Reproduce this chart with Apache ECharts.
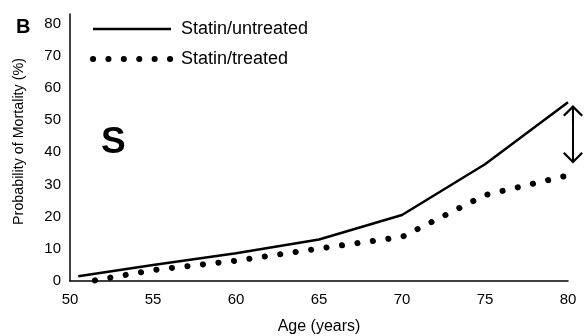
<!DOCTYPE html>
<html>
<head>
<meta charset="UTF-8">
<title>Probability of Mortality</title>
<script src="https://cdn.jsdelivr.net/npm/echarts@6/dist/echarts.min.js"></script>
<style>
  html, body { margin: 0; padding: 0; background: #fff; }
  #chart { width: 588px; height: 336px; }
</style>
</head>
<body>
<div id="chart"></div>
<script>
// data
const seriesNames = ["Statin/untreated", "Statin/treated"];
const untreatedAge = [50.5, 55, 60, 65, 70, 75, 80];
const untreatedMortality = [1.5, 5.0, 8.6, 12.9, 20.5, 36.3, 55.6];
const treatedAge = [51.5, 55, 60, 65, 70, 75, 80.3];
const treatedMortality = [0.2, 3.4, 6.3, 10.1, 13.7, 26.7, 33.2];
// difference marker at age 80 (stem ends; the heads reach ~3 units further)
const gapArrow = [[80.3, 51.6], [80.3, 39.6]];
const yTicks = [0, 10, 20, 30, 40, 50, 60, 70, 80];
const xTicks = [50, 55, 60, 65, 70, 75, 80];

const font = "Liberation Sans";
// open arrow head with its own stem, so the tip sits beyond the line end
const head = "path://M0,10 L10,0 L20,10 L18.4,11.6 L11,4.2 L11,20 L9,20 L9,4.2 L1.6,11.6 Z";

const chart = echarts.init(document.getElementById("chart"));

const option = {
  animation: false,
  textStyle: { fontFamily: font, color: "#000" },
  grid: { left: 70, right: 20, top: 14, bottom: 55, outerBoundsMode: "none", containLabel: false },
  legend: {
    orient: "vertical",
    left: 85,
    top: 15,
    itemWidth: 78,
    itemHeight: 14,
    itemGap: 12,
    itemStyle: { opacity: 0 },
    textStyle: { fontFamily: font, fontSize: 18, color: "#000", padding: [0, 0, 0, 5] },
    data: [
      { name: seriesNames[0], itemStyle: { opacity: 0 }, lineStyle: { width: 2.5, color: "#000" } },
      {
        name: seriesNames[1],
        itemStyle: { opacity: 0 },
        lineStyle: { width: 6, color: "#000", type: [0.1, 15.3], cap: "round" },
      },
    ],
  },
  xAxis: {
    type: "value",
    min: 50,
    max: 80,
    interval: 5,
    name: "Age (years)",
    nameLocation: "middle",
    nameGap: 38,
    nameTextStyle: { fontFamily: font, fontSize: 16, color: "#000" },
    axisLine: { lineStyle: { color: "#000", width: 1.5 } },
    axisTick: { show: false },
    splitLine: { show: false },
    axisLabel: {
      fontFamily: font,
      fontSize: 15,
      color: "#000",
      margin: 11,
      formatter: (v) => (xTicks.includes(v) ? String(v) : ""),
    },
  },
  yAxis: {
    type: "value",
    min: 0,
    max: 83,
    interval: 10,
    name: "Probability of Mortality (%)",
    nameLocation: "middle",
    nameGap: 44,
    nameTextStyle: { fontFamily: font, fontSize: 14.3, color: "#000", padding: [0, 0, 0, 12] },
    axisLine: { show: true, lineStyle: { color: "#000", width: 1.5 } },
    axisTick: { show: false },
    splitLine: { show: false },
    axisLabel: {
      fontFamily: font,
      fontSize: 15,
      color: "#000",
      margin: 9,
      formatter: (v) => (yTicks.includes(v) ? String(v) : ""),
    },
  },
  series: [
    {
      name: seriesNames[0],
      type: "line",
      symbol: "none",
      data: untreatedAge.map((a, i) => [a, untreatedMortality[i]]),
      lineStyle: { color: "#000", width: 2.5 },
      itemStyle: { color: "#000" },
    },
    {
      name: seriesNames[1],
      type: "line",
      symbol: "none",
      clip: false,
      data: treatedAge.map((a, i) => [a, treatedMortality[i]]),
      lineStyle: { color: "#000", width: 6, type: [0.1, 15.5], cap: "round" },
      itemStyle: { color: "#000" },
    },
    {
      type: "lines",
      coordinateSystem: "cartesian2d",
      clip: false,
      silent: true,
      symbol: [head, head],
      symbolSize: [20, 20],
      lineStyle: { color: "#000", width: 2, opacity: 1, curveness: 0 },
      data: [{ coords: gapArrow }],
    },
  ],
  graphic: [
    {
      type: "text",
      left: 16,
      top: 17,
      style: { text: "B", font: "bold 20px " + font, fill: "#000" },
    },
    {
      type: "text",
      left: 101,
      top: 124,
      style: { text: "S", font: "bold 37px " + font, fill: "#000" },
    },
  ],
};

chart.setOption(option);
</script>
</body>
</html>
